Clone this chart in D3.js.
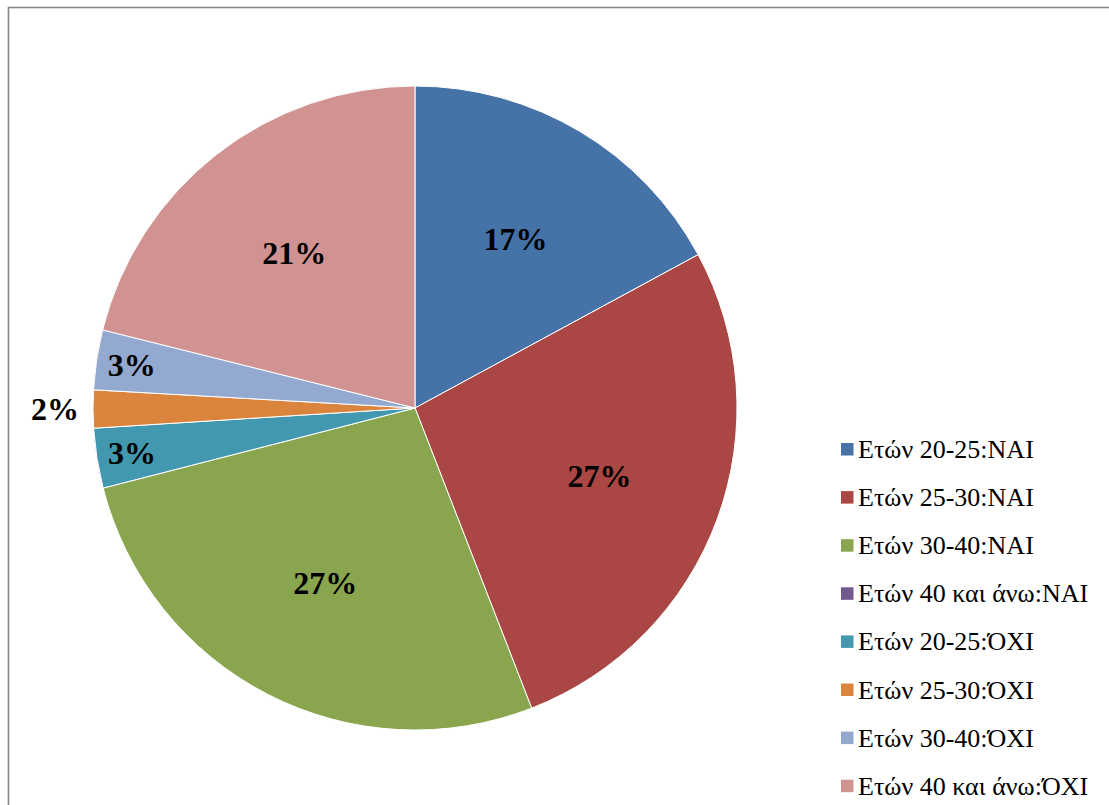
<!DOCTYPE html>
<html>
<head>
<meta charset="utf-8">
<script src="https://cdn.jsdelivr.net/npm/d3@7"></script>
<style>
html,body{margin:0;padding:0;background:#fff;overflow:hidden;}
</style>
</head>
<body>
<svg id="chart" width="1109" height="805"></svg>
<script>
const categories = [
  "Ετών 20-25:ΝΑΙ",
  "Ετών 25-30:ΝΑΙ",
  "Ετών 30-40:ΝΑΙ",
  "Ετών 40 και άνω:ΝΑΙ",
  "Ετών 20-25:ΌΧΙ",
  "Ετών 25-30:ΌΧΙ",
  "Ετών 30-40:ΌΧΙ",
  "Ετών 40 και άνω:ΌΧΙ"
];
const values = [17.1, 27.0, 26.9, 0, 3.0, 1.9, 3.0, 21.1];
const colors = ["#4572A7", "#AA4643", "#89A54E", "#71588F", "#4198AF", "#DB843D", "#93A9CF", "#D19392"];

const svg = d3.select("#chart");
const W = 1109, H = 805;

// frame
svg.append("rect")
  .attr("x", 8.5).attr("y", 7.5)
  .attr("width", W + 20).attr("height", H + 20)
  .attr("fill", "#fff")
  .attr("stroke", "#878787")
  .attr("stroke-width", 1.6);

const cx = 415, cy = 408, R = 322;
const total = d3.sum(values);
const data = categories.map((c, i) => ({cat: c, value: values[i], color: colors[i]}));

const pie = d3.pie().sort(null).value(d => d.value);
const arcs = pie(data);
const arc = d3.arc().innerRadius(0).outerRadius(R);

const g = svg.append("g").attr("transform", `translate(${cx},${cy})`);
g.selectAll("path.slice")
  .data(arcs)
  .join("path")
  .attr("class", "slice")
  .attr("d", arc)
  .attr("fill", d => d.data.color)
  .attr("stroke", "#fff")
  .attr("stroke-width", d => d.data.value > 0 ? 1 : 0);

const pct = v => Math.round(v / total * 100) + "%";
g.selectAll("text.lbl")
  .data(arcs.filter(d => d.data.value > 0))
  .join("text")
  .attr("class", "lbl")
  .attr("transform", d => {
    const share = d.data.value / total;
    let r;
    if (share < 0.025) r = R + 38;
    else if (share < 0.05) r = R * 0.89;
    else r = R * 0.61;
    const a = (d.startAngle + d.endAngle) / 2;
    return `translate(${r * Math.sin(a)},${-r * Math.cos(a)})`;
  })
  .attr("text-anchor", "middle")
  .attr("dy", "0.35em")
  .attr("font-family", "'Liberation Serif','Times New Roman',serif")
  .attr("font-weight", "bold")
  .attr("font-size", 32)
  .attr("fill", "#000")
  .text(d => pct(d.data.value));

// legend
const legend = svg.append("g").attr("transform", "translate(841,443)");
const rows = legend.selectAll("g.row")
  .data(data)
  .join("g")
  .attr("class", "row")
  .attr("transform", (d, i) => `translate(0,${i * 48.1})`);
rows.append("rect")
  .attr("width", 12.5).attr("height", 12.5)
  .attr("fill", d => d.color);
rows.append("text")
  .attr("x", 17).attr("y", 15)
  .attr("font-family", "'Liberation Serif','Times New Roman',serif")
  .attr("font-size", 26)
  .attr("fill", "#000")
  .text(d => d.cat);
</script>
</body>
</html>
